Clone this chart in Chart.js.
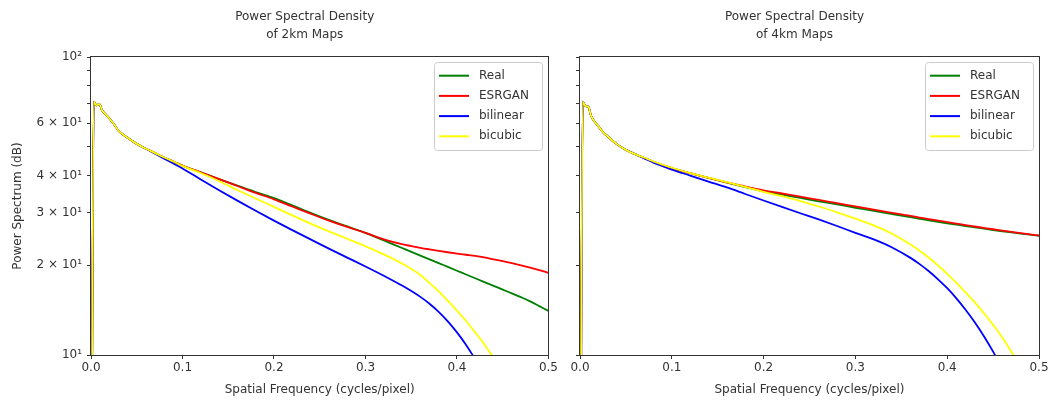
<!DOCTYPE html>
<html><head><meta charset="utf-8">
<script src="https://cdn.jsdelivr.net/npm/chart.js@4.4.1/dist/chart.umd.min.js"></script>
<style>
html,body{margin:0;padding:0;background:#fff;width:1051px;height:405px;overflow:hidden}
canvas{position:absolute;top:0}
#c1{left:0}
#c2{left:560px}
</style></head><body>
<canvas id="c1" width="560" height="405"></canvas>
<canvas id="c2" width="491" height="405"></canvas>
<script>
// ---- data ----
const freq = [0, 0.003, 0.006, 0.009, 0.012, 0.016, 0.02, 0.025, 0.03, 0.04, 0.05, 0.06, 0.07, 0.08, 0.09, 0.1,
  0.12, 0.14, 0.16, 0.18, 0.2, 0.22, 0.24, 0.26, 0.28, 0.3, 0.32, 0.34, 0.36, 0.37, 0.38, 0.39, 0.4,
  0.41, 0.42, 0.43, 0.44, 0.45, 0.46, 0.47, 0.48, 0.49, 0.5];

const seriesNames = ['Real', 'ESRGAN', 'bilinear', 'bicubic'];
const titles2km = ['Power Spectral Density', 'of 2km Maps'];
const titles4km = ['Power Spectral Density', 'of 4km Maps'];
const xTitle = 'Spatial Frequency (cycles/pixel)';
const yTitle = 'Power Spectrum (dB)';
const xTickValues = [0, 0.1, 0.2, 0.3, 0.4, 0.5];
const yTickValues = [10, 20, 30, 40, 50, 60, 70, 80, 90, 100];
const yTickLabels = ['10¹', '2 × 10¹', '3 × 10¹', '4 × 10¹', '', '6 × 10¹', '', '', '', '10²'];

// 2km maps
const real2km = [1, 70.8, 68.8, 69.6, 66.3, 64.2, 62.2, 59.6, 56.6, 53.6, 51.1, 49.2, 47.6, 46.0, 44.6,
  43.2, 41.0, 38.9, 37.0, 35.2, 33.6, 31.8, 30.0, 28.4, 27.0, 25.7, 24.24, 22.86, 21.56, 20.94, 20.34, 19.75, 19.18,
  18.63, 18.09, 17.57, 17.07, 16.57, 16.1, 15.63, 15.14, 14.59, 14.06];
const esrgan2km = [1, 70.8, 68.8, 69.6, 66.3, 64.2, 62.2, 59.6, 56.6, 53.6, 51.1, 49.2, 47.6, 46.0, 44.6,
  43.2, 41.0, 38.9, 36.9, 35.0, 33.3, 31.5, 29.8, 28.25, 26.9, 25.7, 24.45, 23.55, 22.9, 22.62, 22.36, 22.12, 21.9,
  21.7, 21.5, 21.27, 20.95, 20.65, 20.33, 19.99, 19.63, 19.25, 18.87];
const bilinear2km = [1, 70.8, 68.8, 69.6, 66.3, 64.2, 62.2, 59.6, 56.6, 53.6, 51.1, 49.2, 47.36, 45.6, 43.9,
  42.27, 38.82, 35.73, 32.96, 30.48, 28.25, 26.24, 24.43, 22.75, 21.23, 19.82, 18.45, 17.1, 15.67, 14.86, 13.96, 12.97, 11.91,
  10.81, 9.68, null, null, null, null, null, null, null, null];
const bicubic2km = [1, 70.8, 68.8, 69.6, 66.3, 64.2, 62.2, 59.6, 56.6, 53.6, 51.1, 49.2, 47.6, 46.0, 44.6,
  43.1, 40.8, 38.3, 35.8, 33.5, 31.4, 29.4, 27.6, 26.0, 24.55, 23.17, 21.77, 20.27, 18.55, 17.45, 16.35, 15.2, 14.1,
  13.0, 11.9, 10.85, 9.8, null, null, null, null, null, null];

// 4km maps
const real4km = [1, 70.8, 68.4, 68.2, 63.6, 60.6, 58.6, 56.0, 54.2, 51.0, 48.8, 47.2, 45.8, 44.5, 43.4,
  42.4, 40.75, 39.28, 37.9, 36.6, 35.4, 34.5, 33.65, 32.8, 32.0, 31.2, 30.45, 29.7, 29.0, 28.65, 28.3, 27.97, 27.67,
  27.37, 27.07, 26.8, 26.53, 26.27, 26.02, 25.78, 25.55, 25.33, 25.12];
const esrgan4km = [1, 70.8, 68.4, 68.2, 63.6, 60.6, 58.6, 56.0, 54.2, 51.0, 48.8, 47.2, 45.8, 44.5, 43.4,
  42.4, 40.75, 39.28, 37.96, 36.77, 35.7, 34.83, 33.98, 33.14, 32.33, 31.52, 30.75, 30.0, 29.28, 28.93, 28.58, 28.25, 27.93,
  27.61, 27.29, 26.99, 26.7, 26.42, 26.16, 25.9, 25.65, 25.41, 25.18];
const bilinear4km = [1, 70.8, 68.4, 68.2, 63.6, 60.6, 58.6, 56.0, 54.2, 51.0, 48.8, 47.2, 45.7, 44.2, 43.0,
  41.9, 40.0, 38.2, 36.5, 34.7, 33.0, 31.4, 29.9, 28.5, 27.1, 25.7, 24.43, 22.96, 21.18, 20.18, 19.1, 17.95, 16.75,
  15.49, 14.19, 12.88, 11.56, 10.26, 8.99, null, null, null, null];
const bicubic4km = [1, 70.8, 68.4, 68.2, 63.6, 60.6, 58.6, 56.0, 54.2, 51.0, 48.8, 47.2, 45.9, 44.6, 43.5,
  42.5, 40.8, 39.35, 38.0, 36.65, 35.3, 34.1, 32.85, 31.5, 30.12, 28.68, 27.22, 25.51, 23.49, 22.38, 21.2, 19.97, 18.72,
  17.47, 16.23, 15.01, 13.81, 12.63, 11.44, 10.24, 9.06, null, null];

const seriesColors = ['green', 'red', 'blue', 'yellow'];

// ---- rendering ----
const TXT = '#333333';
Chart.defaults.font.family = '"DejaVu Sans", sans-serif';
Chart.defaults.font.size = 12;
Chart.defaults.color = TXT;

const framePlugin = {
  id: 'frame',
  afterDatasetsDraw(chart) {
    const {ctx, chartArea: a} = chart;
    ctx.save();
    ctx.strokeStyle = '#333333';
    ctx.lineWidth = 1;
    ctx.strokeRect(Math.round(a.left) - 0.5, Math.round(a.top) - 0.5,
      Math.round(a.right - a.left) + 1, Math.round(a.bottom - a.top) + 1);
    ctx.restore();
  }
};

const titlePlugin = {
  id: 'twoLineTitle',
  afterDraw(chart, args, opts) {
    const {ctx, chartArea: a} = chart;
    ctx.save();
    ctx.font = '12px "DejaVu Sans"';
    ctx.fillStyle = TXT;
    ctx.textAlign = 'center';
    ctx.textBaseline = 'middle';
    const cx = (a.left + a.right) / 2 + opts.dx;
    opts.lines.forEach((t, i) => ctx.fillText(t, cx, 17 + i * 18));
    ctx.restore();
  }
};

const legendPlugin = {
  id: 'boxLegend',
  afterDraw(chart) {
    const {ctx, chartArea: a} = chart;
    const w = 108, h = 88;
    const x = Math.round(a.right - 6 - w), y = Math.round(a.top + 5);
    ctx.save();
    ctx.fillStyle = 'rgba(255,255,255,0.8)';
    ctx.strokeStyle = '#cccccc';
    ctx.lineWidth = 1;
    ctx.beginPath();
    ctx.roundRect(x + 0.5, y + 0.5, w, h, 3);
    ctx.fill();
    ctx.stroke();
    ctx.font = '12px "DejaVu Sans"';
    ctx.textBaseline = 'middle';
    ctx.textAlign = 'left';
    chart.data.datasets.forEach((ds, i) => {
      const cy = y + 13.7 + i * 20.2;
      ctx.strokeStyle = ds.borderColor;
      ctx.lineWidth = 2;
      ctx.beginPath();
      ctx.moveTo(x + 5, cy);
      ctx.lineTo(x + 35, cy);
      ctx.stroke();
      ctx.fillStyle = TXT;
      ctx.fillText(ds.label, x + 45, cy);
    });
    ctx.restore();
  }
};

function makeChart(id, seriesList, titleLines, showYLabels, yWidth, padRight) {
  const datasets = seriesList.map((arr, k) => ({
    label: seriesNames[k],
    data: freq.map((f, i) => ({x: f, y: arr[i]})),
    borderColor: seriesColors[k],
    backgroundColor: seriesColors[k],
    borderWidth: 1.8,
    pointRadius: 0,
    fill: false,
    cubicInterpolationMode: 'monotone',
    clip: 0,
    order: seriesList.length - k   // later series drawn on top, like matplotlib
  }));
  return new Chart(document.getElementById(id), {
    type: 'line',
    data: {datasets},
    plugins: [framePlugin, titlePlugin, legendPlugin],
    options: {
      responsive: false,
      animation: false,
      devicePixelRatio: 1,
      layout: {padding: {top: 57, right: padRight, left: 0, bottom: 0}},
      plugins: {
        legend: {display: false},
        tooltip: {enabled: false},
        twoLineTitle: {lines: titleLines, dx: -15}
      },
      scales: {
        x: {
          type: 'linear', min: 0, max: 0.5,
          afterBuildTicks: s => { s.ticks = xTickValues.map(v => ({value: v})); },
          afterFit: s => { s.height = 50; },
          ticks: {callback: v => v.toFixed(1), maxRotation: 0, autoSkip: false, padding: 2, color: TXT},
          grid: {drawOnChartArea: false, drawTicks: true, tickLength: 4, tickColor: '#333333'},
          border: {display: false},
          title: {display: true, text: xTitle, color: TXT, padding: {top: 0, bottom: 8}}
        },
        y: {
          type: 'logarithmic', min: 10, max: 100,
          afterBuildTicks: s => { s.ticks = yTickValues.map(v => ({value: v})); },
          afterFit: s => { s.width = yWidth; },
          ticks: {
            callback: v => showYLabels ? (yTickLabels[yTickValues.indexOf(v)] ?? '') : '',
            autoSkip: false, padding: 5, color: TXT
          },
          grid: {drawOnChartArea: false, drawTicks: true, tickLength: 4, tickColor: '#333333'},
          border: {display: false},
          title: {display: showYLabels, text: yTitle, color: TXT, padding: {top: 11, bottom: 0}}
        }
      }
    }
  });
}

makeChart('c1', [real2km, esrgan2km, bilinear2km, bicubic2km], titles2km, true, 91, 11);
makeChart('c2', [real4km, esrgan4km, bilinear4km, bicubic4km], titles4km, false, 20, 12);
</script>
</body></html>
